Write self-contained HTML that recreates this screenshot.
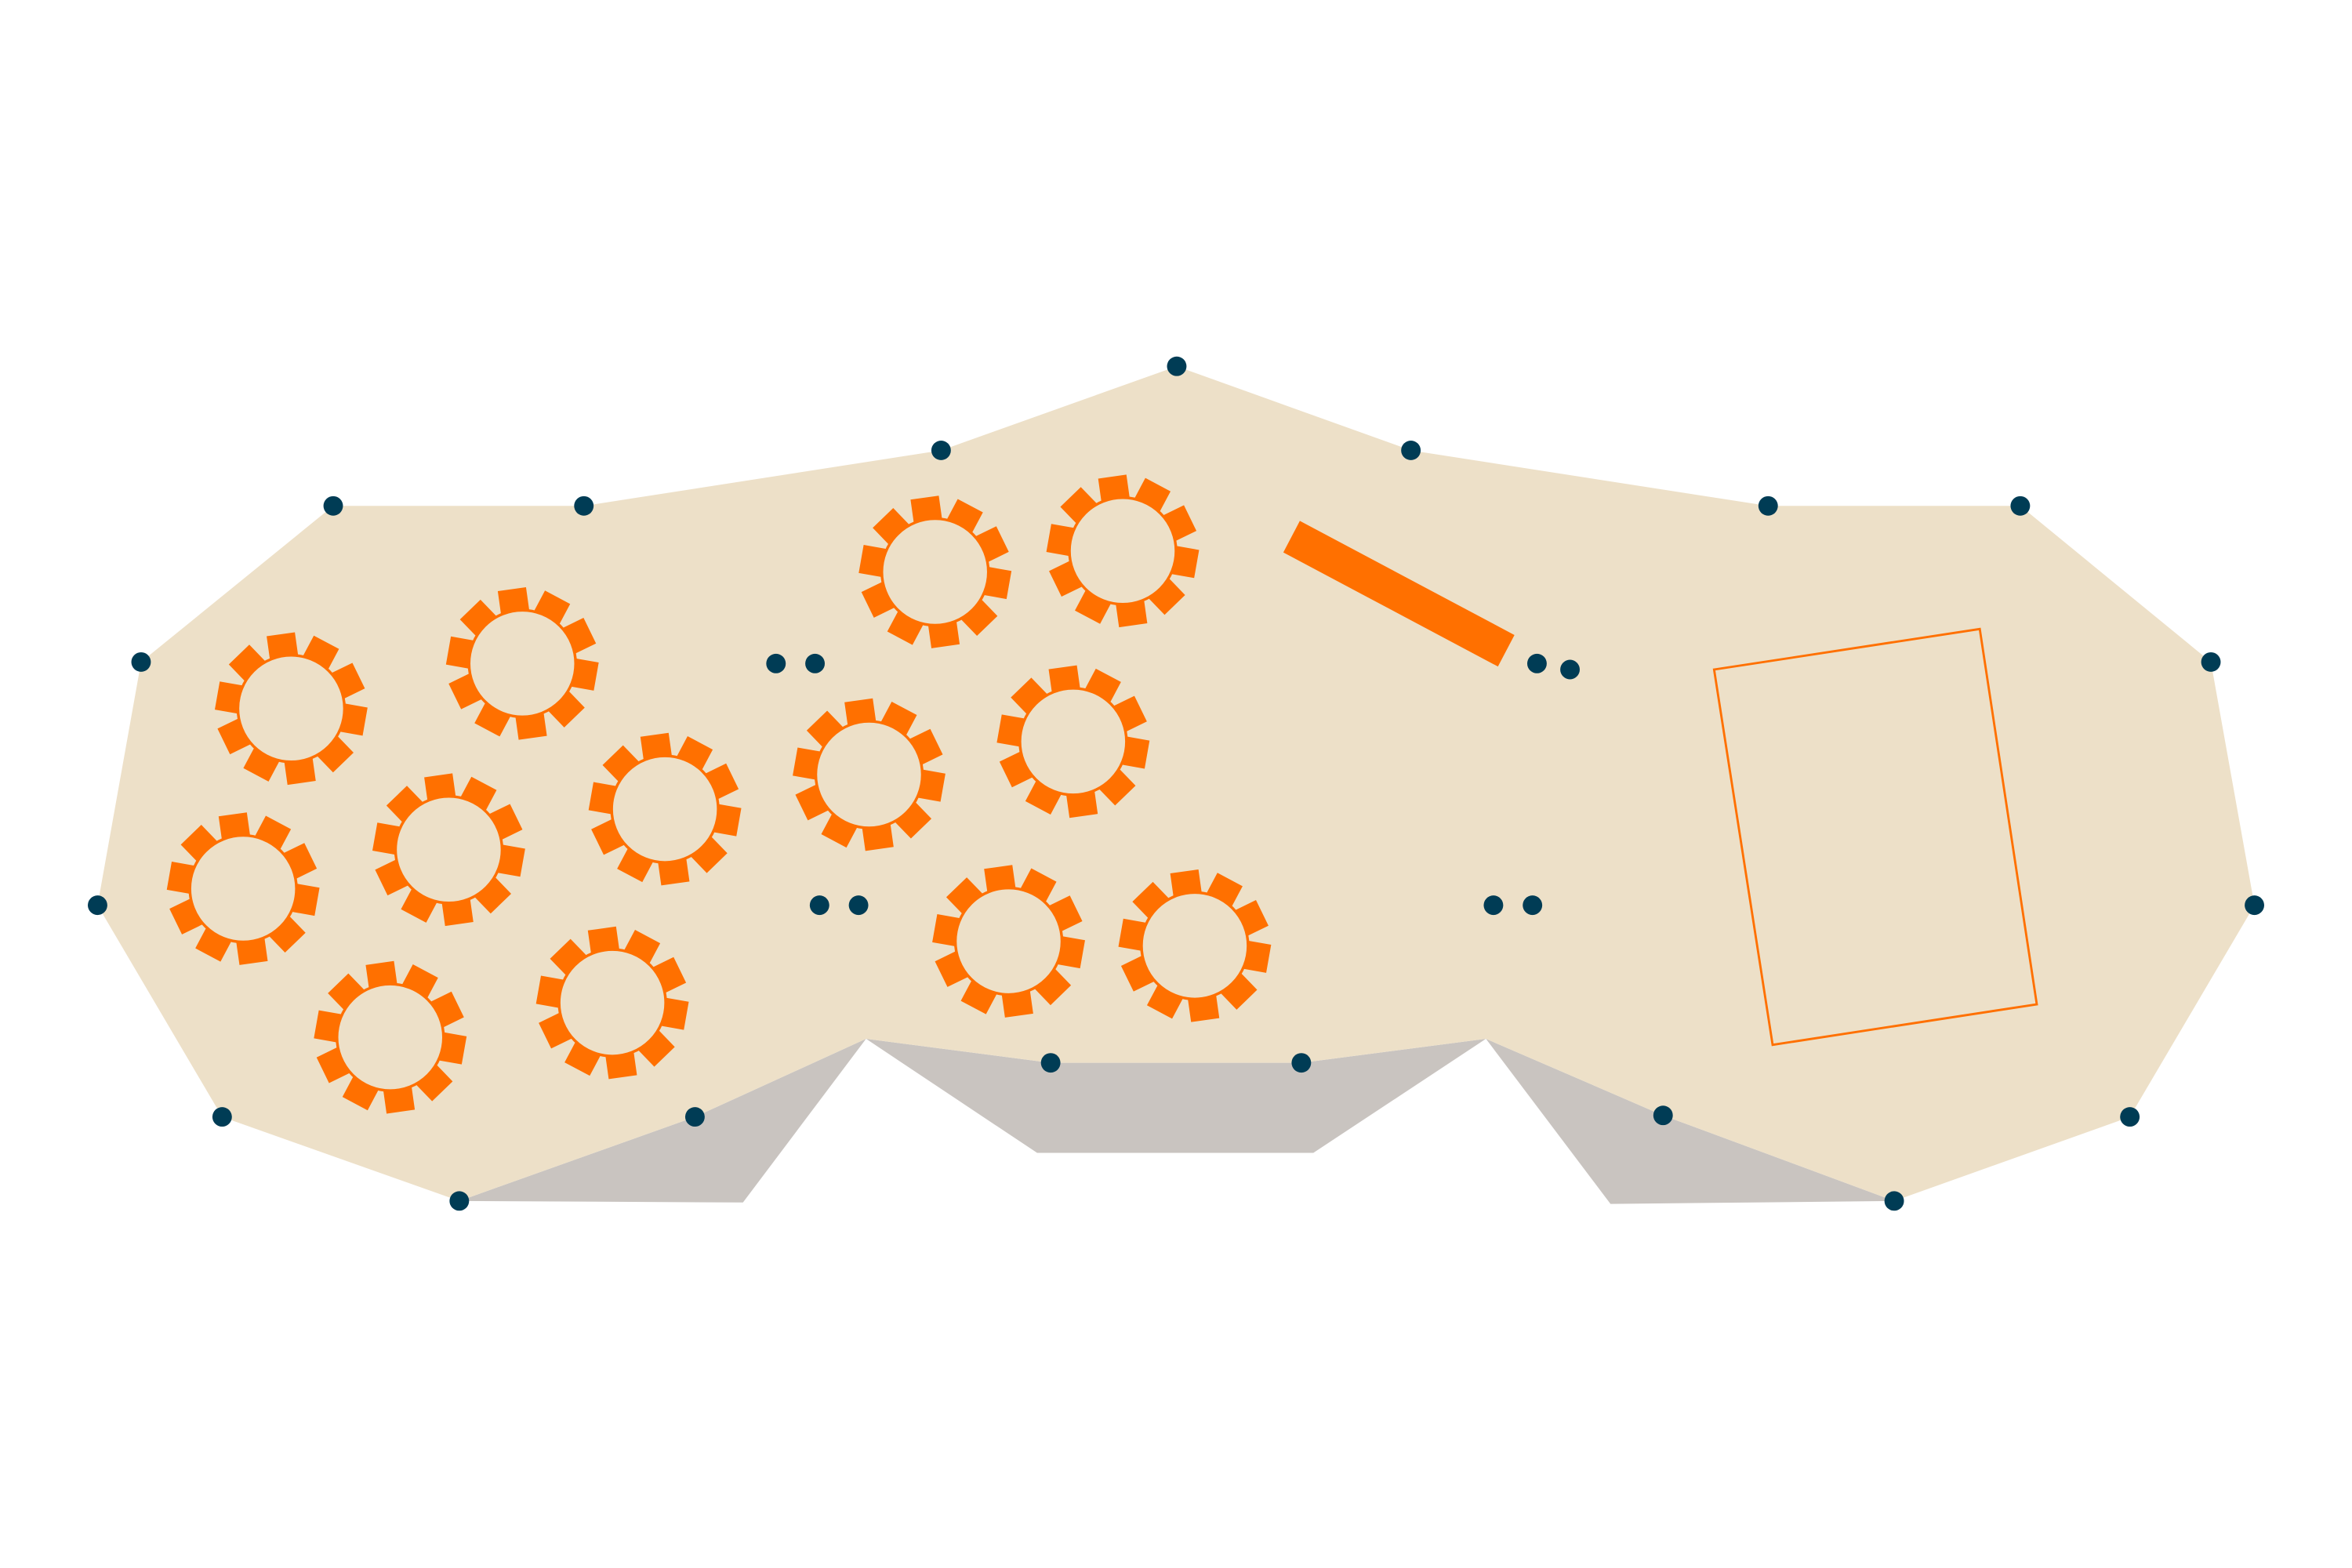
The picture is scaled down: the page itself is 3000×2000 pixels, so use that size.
<!DOCTYPE html>
<html><head><meta charset="utf-8"><style>html,body{margin:0;padding:0;background:#fff}svg{display:block}</style></head>
<body>
<svg width="3000" height="2000" viewBox="0 0 1567 1044.5" preserveAspectRatio="none" xmlns="http://www.w3.org/2000/svg">
<defs>
<g id="t">
<rect x="31" y="-9.5" width="19" height="19" fill="#FF7000" transform="rotate(-98)"/>
<rect x="31" y="-9.5" width="19" height="19" fill="#FF7000" transform="rotate(-62)"/>
<rect x="31" y="-9.5" width="19" height="19" fill="#FF7000" transform="rotate(-26)"/>
<rect x="31" y="-9.5" width="19" height="19" fill="#FF7000" transform="rotate(10)"/>
<rect x="31" y="-9.5" width="19" height="19" fill="#FF7000" transform="rotate(46)"/>
<rect x="31" y="-9.5" width="19" height="19" fill="#FF7000" transform="rotate(82)"/>
<rect x="31" y="-9.5" width="19" height="19" fill="#FF7000" transform="rotate(118)"/>
<rect x="31" y="-9.5" width="19" height="19" fill="#FF7000" transform="rotate(154)"/>
<rect x="31" y="-9.5" width="19" height="19" fill="#FF7000" transform="rotate(190)"/>
<rect x="31" y="-9.5" width="19" height="19" fill="#FF7000" transform="rotate(226)"/>
<circle r="35.5" fill="#EDE0C8" stroke="#FF7000" stroke-width="1.8"/>
</g>
</defs>
<polygon fill="#C9C4C0" points="306,800 463,744 577,692 495,801"/>
<polygon fill="#C9C4C0" points="577,692 700,708 867,708 990,692 875,768 691,768"/>
<polygon fill="#C9C4C0" points="990,692 1108,743 1262,800 1073,802"/>
<polygon fill="#EDE0C8" points="65,603 94,441 222,337 389,337 627,300 784,244 940,300 1178,337 1346,337 1473,441 1502,603 1419,744 1262,800 1108,743 990,692 867,708 700,708 577,692 463,744 306,800 148,744"/>
<use href="#t" x="194" y="472"/>
<use href="#t" x="348" y="442"/>
<use href="#t" x="623" y="381"/>
<use href="#t" x="748" y="367"/>
<use href="#t" x="162" y="592"/>
<use href="#t" x="299" y="566"/>
<use href="#t" x="443" y="539"/>
<use href="#t" x="579" y="516"/>
<use href="#t" x="715" y="494"/>
<use href="#t" x="260" y="691"/>
<use href="#t" x="408" y="668"/>
<use href="#t" x="672" y="627"/>
<use href="#t" x="796" y="630"/>
<polygon fill="#FF7000" points="866,347 1009,423 998,444 855,368"/>
<polygon fill="none" stroke="#FF7000" stroke-width="1.5" points="1142,446 1319,419 1357,669 1181,696"/>
<g fill="#003C55">
<circle cx="784" cy="244" r="6.5"/><circle cx="627" cy="300" r="6.5"/><circle cx="940" cy="300" r="6.5"/>
<circle cx="222" cy="337" r="6.5"/><circle cx="389" cy="337" r="6.5"/><circle cx="1178" cy="337" r="6.5"/>
<circle cx="1346" cy="337" r="6.5"/><circle cx="94" cy="441" r="6.5"/><circle cx="1473" cy="441" r="6.5"/>
<circle cx="65" cy="603" r="6.5"/><circle cx="1502" cy="603" r="6.5"/><circle cx="148" cy="744" r="6.5"/>
<circle cx="1419" cy="744" r="6.5"/><circle cx="306" cy="800" r="6.5"/><circle cx="1262" cy="800" r="6.5"/>
<circle cx="463" cy="744" r="6.5"/><circle cx="1108" cy="743" r="6.5"/><circle cx="700" cy="708" r="6.5"/>
<circle cx="867" cy="708" r="6.5"/><circle cx="517" cy="442" r="6.5"/><circle cx="543" cy="442" r="6.5"/>
<circle cx="1024" cy="442" r="6.5"/><circle cx="1046" cy="446" r="6.5"/><circle cx="546" cy="603" r="6.5"/>
<circle cx="572" cy="603" r="6.5"/><circle cx="995" cy="603" r="6.5"/><circle cx="1021" cy="603" r="6.5"/>
</g>
</svg>
</body></html>
